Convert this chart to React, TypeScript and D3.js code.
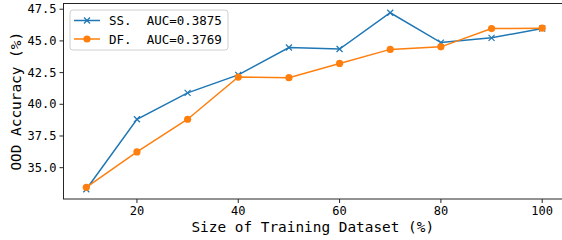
import React from "react";
import * as d3 from "d3";

const sizes = [10, 20, 30, 40, 50, 60, 70, 80, 90, 100];
const ssValues = [33.3, 38.82, 40.9, 42.32, 44.48, 44.36, 47.22, 44.87, 45.24, 45.98];
const dfValues = [33.45, 36.24, 38.82, 42.15, 42.1, 43.22, 44.33, 44.53, 45.97, 46.0];
const xTicks = [20, 40, 60, 80, 100];
const yTicks = [35.0, 37.5, 40.0, 42.5, 45.0, 47.5];
const legendLabels = ["SS.  AUC=0.3875", "DF.  AUC=0.3769"];

const W = 562;
const H = 240;
const FONT = "'DejaVu Sans Mono', monospace";
const BLUE = "#1f77b4";
const ORANGE = "#ff7f0e";

export default function App() {
  const left = 63.5, right = 565, top = 3.5, bottom = 199;
  const x = d3.scaleLinear().domain([5.5, 104.5]).range([left, right]);
  const y = d3.scaleLinear().domain([32.53, 47.95]).range([bottom, top]);
  const line = d3.line<number>().x((_, i) => x(sizes[i])).y((d) => y(d));

  return (
    <svg width={W} height={H} style={{ position: "absolute", left: 0, top: 0, background: "#fff" }}>
      <defs>
        <clipPath id="plot">
          <rect x={left} y={top - 6} width={right - left + 6} height={bottom - top + 12} />
        </clipPath>
      </defs>
      {/* spines */}
      <rect x={left} y={top} width={right - left} height={bottom - top} fill="none" stroke="#262626" strokeWidth={1} />
      {/* x ticks */}
      {xTicks.map((t) => (
        <g key={"x" + t}>
          <line x1={x(t)} x2={x(t)} y1={bottom} y2={bottom + 4} stroke="#262626" strokeWidth={1} />
          <text x={x(t)} y={bottom + 15.5} textAnchor="middle" fontFamily={FONT} fontSize={12} fill="#000">
            {t}
          </text>
        </g>
      ))}
      {/* y ticks */}
      {yTicks.map((t) => (
        <g key={"y" + t}>
          <line x1={left - 4} x2={left} y1={y(t)} y2={y(t)} stroke="#262626" strokeWidth={1} />
          <text x={left - 7} y={y(t) + 4.2} textAnchor="end" fontFamily={FONT} fontSize={12} fill="#000">
            {t.toFixed(1)}
          </text>
        </g>
      ))}
      <text x={(left + 542 + 22) / 2 - 1} y={232} textAnchor="middle" fontFamily={FONT} fontSize={14.4} fill="#000">
        Size of Training Dataset (%)
      </text>
      <text
        transform={`translate(21,${(top + bottom) / 2}) rotate(-90)`}
        textAnchor="middle"
        fontFamily={FONT}
        fontSize={14.4}
        fill="#000"
      >
        OOD Accuracy (%)
      </text>
      <g clipPath="url(#plot)">
        <path d={line(ssValues) || ""} fill="none" stroke={BLUE} strokeWidth={1.5} />
        {ssValues.map((v, i) => (
          <g key={"s" + i} stroke={BLUE} strokeWidth={1.2}>
            <line x1={x(sizes[i]) - 3} x2={x(sizes[i]) + 3} y1={y(v) - 3} y2={y(v) + 3} />
            <line x1={x(sizes[i]) - 3} x2={x(sizes[i]) + 3} y1={y(v) + 3} y2={y(v) - 3} />
          </g>
        ))}
        <path d={line(dfValues) || ""} fill="none" stroke={ORANGE} strokeWidth={1.5} />
        {dfValues.map((v, i) => (
          <circle key={"d" + i} cx={x(sizes[i])} cy={y(v)} r={3.6} fill={ORANGE} />
        ))}
      </g>
      {/* legend */}
      <rect x={70} y={10} width={158} height={40} rx={3} fill="#fff" fillOpacity={0.8} stroke="#d0d0d0" strokeWidth={1} />
      {legendLabels.map((lab, i) => {
        const ly = 20.5 + i * 18.5;
        return (
          <g key={lab}>
            <line x1={74} x2={100} y1={ly} y2={ly} stroke={i === 0 ? BLUE : ORANGE} strokeWidth={1.5} />
            {i === 0 ? (
              <g stroke={BLUE} strokeWidth={1.2}>
                <line x1={84} x2={90} y1={ly - 3} y2={ly + 3} />
                <line x1={84} x2={90} y1={ly + 3} y2={ly - 3} />
              </g>
            ) : (
              <circle cx={87} cy={ly} r={3.6} fill={ORANGE} />
            )}
            <text x={109} y={ly + 4.5} fontFamily={FONT} fontSize={12.5} fill="#000" style={{ whiteSpace: "pre" }}>
              {lab}
            </text>
          </g>
        );
      })}
    </svg>
  );
}
